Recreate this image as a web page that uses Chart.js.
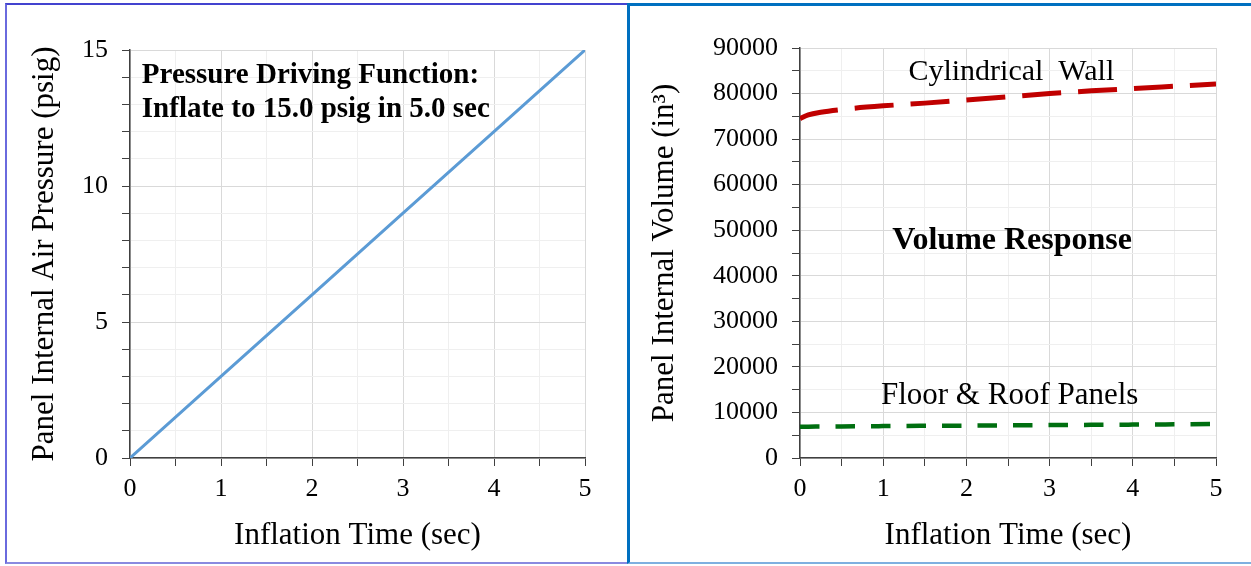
<!DOCTYPE html>
<html>
<head>
<meta charset="utf-8">
<script src="https://cdn.jsdelivr.net/npm/chart.js@4.4.1/dist/chart.umd.min.js"></script>
<style>
  body { margin: 0; width: 1251px; height: 566px; position: relative; background: #fff; overflow: hidden; }
  canvas { position: absolute; top: 0; }
  .frame { position: absolute; box-sizing: border-box; pointer-events: none; }
</style>
</head>
<body>
<canvas id="pressure-chart" width="628" height="566" style="left:0"></canvas>
<canvas id="volume-chart" width="623" height="566" style="left:628px"></canvas>
<div class="frame" style="left:5px;top:3px;width:625px;height:561px;border:2px solid #4343cf;border-left-color:#6a6ade;border-bottom-color:#8a8ae0;border-right:none"></div>
<div class="frame" style="left:627px;top:3px;width:624px;height:561px;border:3px solid #0070c0;border-bottom:2px solid #7fb0e0;border-right:none"></div>
<script>
const timeSec = [0, 1, 2, 3, 4, 5];
const pressurePsig = [0, 3, 6, 9, 12, 15];

const volumeTime = [0, 0.1, 0.25, 0.5, 1, 1.5, 2, 2.5, 3, 3.5, 4, 4.5, 5];
const wallVolume = [74500, 75300, 75900, 76500, 77300, 77900, 78600, 79300, 80000, 80600, 81100, 81600, 82100];
const floorVolume = [6850, 6880, 6900, 6940, 7000, 7060, 7110, 7170, 7220, 7280, 7330, 7390, 7450];

const serif = '"Liberation Serif", "Times New Roman", serif';

// text notes placed in data coordinates
const notesPlugin = {
    id: 'notes',
    afterDatasetsDraw(chart, args, opts) {
        const ctx = chart.ctx;
        const x = chart.scales.x, y = chart.scales.y;
        opts.items.forEach(n => {
            ctx.save();
            ctx.font = n.font;
            ctx.fillStyle = '#000';
            ctx.textAlign = n.align;
            ctx.textBaseline = 'middle';
            ctx.fillText(n.text, x.getPixelForValue(n.x), y.getPixelForValue(n.y));
            ctx.restore();
        });
    }
};

function xAxis() {
    return {
        type: 'linear', min: 0, max: 5,
        afterFit: s => { s.height = 108; },
        border: { color: '#404040', width: 1.5 },
        grid: {
            color: c => (c.tick && c.tick.value % 1 === 0) ? '#d9d9d9' : '#efefef',
            tickColor: '#404040', tickLength: 8, lineWidth: 1
        },
        ticks: {
            stepSize: 0.5, autoSkip: false, maxRotation: 0, padding: 8,
            color: '#000', font: { family: serif, size: 26 },
            callback: v => v % 1 === 0 ? String(v) : ''
        },
        title: {
            display: true, text: 'Inflation Time (sec)', color: '#000',
            font: { family: serif, size: 31 }, padding: { top: 0, bottom: 12 }
        }
    };
}

function yAxis(max, step, major, title, width, pad) {
    return {
        type: 'linear', min: 0, max: max,
        afterFit: s => { s.width = width; },
        border: { color: '#404040', width: 1.5 },
        grid: {
            color: c => (c.tick && c.tick.value % major === 0) ? '#d9d9d9' : '#efefef',
            tickColor: '#404040', tickLength: 8, lineWidth: 1
        },
        ticks: {
            stepSize: step, autoSkip: false, padding: 14,
            color: '#000', font: { family: serif, size: 26 },
            callback: v => v % major === 0 ? String(v) : ''
        },
        title: {
            display: true, text: title, color: '#000',
            font: { family: serif, size: 31 }, padding: { top: pad, bottom: 0 }
        }
    };
}

new Chart(document.getElementById('pressure-chart'), {
    type: 'line',
    data: {
        datasets: [{
            data: timeSec.map((t, i) => ({ x: t, y: pressurePsig[i] })),
            borderColor: '#5b9bd5', borderWidth: 3, pointRadius: 0, tension: 0
        }]
    },
    options: {
        responsive: false, animation: false,
        layout: { padding: { left: 0, right: 43, top: 50, bottom: 0 } },
        plugins: {
            legend: { display: false }, tooltip: { enabled: false },
            notes: { items: [
                { text: 'Pressure Driving Function:', x: 0.13, y: 14.08, align: 'left', font: 'bold 29px ' + serif },
                { text: 'Inflate to 15.0 psig in 5.0 sec', x: 0.13, y: 12.8, align: 'left', font: 'bold 29px ' + serif }
            ] }
        },
        scales: {
            x: xAxis(),
            y: yAxis(15, 1, 5, 'Panel Internal Air Pressure (psig)', 130, 26)
        }
    },
    plugins: [notesPlugin]
});

new Chart(document.getElementById('volume-chart'), {
    type: 'line',
    data: {
        datasets: [{
            data: volumeTime.map((t, i) => ({ x: t, y: wallVolume[i] })),
            borderColor: '#c00000', borderWidth: 5, borderDash: [39, 17],
            pointRadius: 0, cubicInterpolationMode: 'monotone'
        }, {
            data: volumeTime.map((t, i) => ({ x: t, y: floorVolume[i] })),
            borderColor: '#006f10', borderWidth: 4.5, borderDash: [19.5, 16],
            pointRadius: 0, cubicInterpolationMode: 'monotone'
        }]
    },
    options: {
        responsive: false, animation: false,
        layout: { padding: { left: 0, right: 35, top: 48, bottom: 0 } },
        plugins: {
            legend: { display: false }, tooltip: { enabled: false },
            notes: { items: [
                { text: 'Cylindrical  Wall', x: 2.54, y: 84600, align: 'center', font: '30px ' + serif },
                { text: 'Volume Response', x: 2.55, y: 47600, align: 'center', font: 'bold 32px ' + serif },
                { text: 'Floor & Roof Panels', x: 2.52, y: 13600, align: 'center', font: '31px ' + serif }
            ] }
        },
        scales: {
            x: xAxis(),
            y: yAxis(90000, 5000, 10000, 'Panel Internal Volume (in³)', 172, 18)
        }
    },
    plugins: [notesPlugin]
});
</script>
</body>
</html>
